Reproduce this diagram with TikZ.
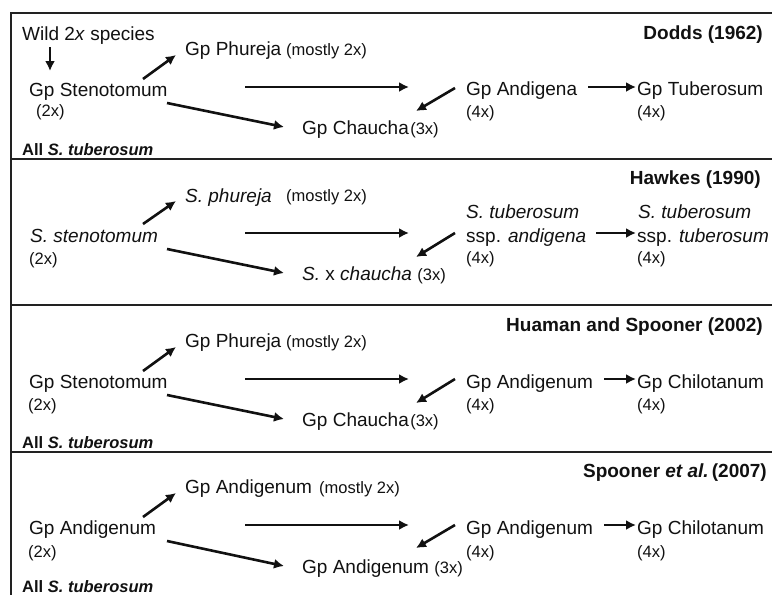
\documentclass[tikz,border=0pt]{standalone}
\usepackage{fontspec}
\setmainfont{Liberation Sans}
\usetikzlibrary{arrows.meta}
\definecolor{ink}{HTML}{111111}
\definecolor{rule}{HTML}{222222}
\begin{document}
\begin{tikzpicture}[x=1pt,y=-1pt,
  txt/.style={anchor=base west,inner sep=0pt,text=ink,font=\fontsize{19}{22}\selectfont},
  sml/.style={anchor=base west,inner sep=0pt,text=ink,font=\fontsize{16.5}{19}\selectfont},
  ttl/.style={anchor=base east,inner sep=0pt,text=ink,font=\fontsize{19}{22}\selectfont\bfseries},
  allst/.style={anchor=base west,inner sep=0pt,text=ink,font=\fontsize{16.5}{19}\selectfont\bfseries},
  arr/.style={draw=ink,line width=2.6pt,-{Latex[length=10pt,width=10pt]}},
  frm/.style={draw=rule,line width=1.8pt}]
\useasboundingbox (0,0) rectangle (772,595);
% frame
\coordinate (ftl) at (11,13); \coordinate (ftr) at (772,13); \coordinate (fbl) at (11,595);
\draw[frm] (fbl) -- (ftl) -- (ftr);
\foreach \yy/\nm in {159/d1,305/d2,452/d3}{
  \coordinate (\nm l) at (11,\yy); \coordinate (\nm r) at (772,\yy);
  \draw[frm] (\nm l) -- (\nm r);}

% ---------- Panel 1: Dodds ----------
\node[ttl] (t1) at (763,39) {Dodds (1962)};
\node[txt] (wild) at (22,40) {Wild 2\textit{x} species};
\node[txt] (sten1) at (29,96) {Gp Stenotomum};
\node[sml] (s2x1) at (36,116) {(2x)};
\node[txt] (phu1) at (185,55) {Gp Phureja};
\node[sml] (mo1) at (286,55) {(mostly 2x)};
\node[txt] (cha1) at (302,134) {Gp Chaucha};
\node[sml,anchor=base west] (c3x1) at ([xshift=1pt]cha1.base east) {(3x)};
\node[txt] (and1) at (466,95) {Gp Andigena};
\node[sml] (a4x1) at (466,117) {(4x)};
\node[txt] (tub1) at (637,95) {Gp Tuberosum};
\node[sml] (t4x1) at (637,117) {(4x)};
\node[allst] (all1) at (22,155) {All \textit{S. tuberosum}};
\coordinate (w1a) at (50,47); \coordinate (w1b) at (50,71);
\coordinate (u1a) at (143,79); \coordinate (u1b) at (176,55);
\coordinate (d1a) at (167,103); \coordinate (d1b) at (284,127);
\coordinate (h1a) at (245,87); \coordinate (h1b) at (409,87);
\coordinate (b1a) at (455,88); \coordinate (b1b) at (416,111);
\coordinate (r1a) at (588,87); \coordinate (r1b) at (636,87);
\draw[arr] (w1a) -- (w1b);
\draw[arr] (u1a) -- (u1b);
\draw[arr] (d1a) -- (d1b);
\draw[arr] (h1a) -- (h1b);
\draw[arr] (b1a) -- (b1b);
\draw[arr] (r1a) -- (r1b);

% ---------- Panel 2: Hawkes ----------
\node[ttl] (t2) at (761,184) {Hawkes (1990)};
\node[txt] (phu2) at (185,202) {\textit{S. phureja}};
\node[sml] (mo2) at (286,201) {(mostly 2x)};
\node[txt] (sten2) at (30,242) {\textit{S. stenotomum}};
\node[sml] (s2x2) at (29,264) {(2x)};
\node[txt] (cha2) at (302,280) {\textit{S.} x \textit{chaucha}};
\node[sml,anchor=base west] (c3x2) at ([xshift=5pt]cha2.base east) {(3x)};
\node[txt] (tub2a) at (466,218) {\textit{S. tuberosum}};
\node[txt] (and2) at (466,242) {ssp. \textit{andigena}};
\node[sml] (a4x2) at (466,263) {(4x)};
\node[txt] (tub2b) at (638,218) {\textit{S. tuberosum}};
\node[txt] (tub2) at (637,242) {ssp. \textit{tuberosum}};
\node[sml] (t4x2) at (637,263) {(4x)};
\coordinate (u2a) at (143,224); \coordinate (u2b) at (176,201);
\coordinate (d2a) at (167,249); \coordinate (d2b) at (284,273);
\coordinate (h2a) at (245,233); \coordinate (h2b) at (409,233);
\coordinate (b2a) at (455,233); \coordinate (b2b) at (416,257);
\coordinate (r2a) at (596,233); \coordinate (r2b) at (636,233);
\draw[arr] (u2a) -- (u2b);
\draw[arr] (d2a) -- (d2b);
\draw[arr] (h2a) -- (h2b);
\draw[arr] (b2a) -- (b2b);
\draw[arr] (r2a) -- (r2b);

% ---------- Panel 3: Huaman and Spooner ----------
\node[ttl] (t3) at (763,331) {Huaman and Spooner (2002)};
\node[txt] (phu3) at (185,347) {Gp Phureja};
\node[sml] (mo3) at (286,347) {(mostly 2x)};
\node[txt] (sten3) at (29,388) {Gp Stenotomum};
\node[sml] (s2x3) at (28,410) {(2x)};
\node[txt] (cha3) at (302,426) {Gp Chaucha};
\node[sml,anchor=base west] (c3x3) at ([xshift=1pt]cha3.base east) {(3x)};
\node[txt] (and3) at (466,388) {Gp Andigenum};
\node[sml] (a4x3) at (466,410) {(4x)};
\node[txt] (chi3) at (637,388) {Gp Chilotanum};
\node[sml] (c4x3) at (637,410) {(4x)};
\node[allst] (all3) at (22,448) {All \textit{S. tuberosum}};
\coordinate (u3a) at (143,371); \coordinate (u3b) at (176,347);
\coordinate (d3a) at (167,395); \coordinate (d3b) at (284,419);
\coordinate (h3a) at (245,379); \coordinate (h3b) at (409,379);
\coordinate (b3a) at (455,379); \coordinate (b3b) at (416,403);
\coordinate (r3a) at (604,379); \coordinate (r3b) at (636,379);
\draw[arr] (u3a) -- (u3b);
\draw[arr] (d3a) -- (d3b);
\draw[arr] (h3a) -- (h3b);
\draw[arr] (b3a) -- (b3b);
\draw[arr] (r3a) -- (r3b);

% ---------- Panel 4: Spooner et al. ----------
\node[ttl] (t4) at (767,477) {Spooner \textit{et al.}\,(2007)};
\node[txt] (phu4) at (185,493) {Gp Andigenum};
\node[sml] (mo4) at (319,493) {(mostly 2x)};
\node[txt] (sten4) at (29,534) {Gp Andigenum};
\node[sml] (s2x4) at (28,557) {(2x)};
\node[txt] (cha4) at (302,573) {Gp Andigenum};
\node[sml,anchor=base west] (c3x4) at ([xshift=5pt]cha4.base east) {(3x)};
\node[txt] (and4) at (466,534) {Gp Andigenum};
\node[sml] (a4x4) at (466,557) {(4x)};
\node[txt] (chi4) at (637,534) {Gp Chilotanum};
\node[sml] (c4x4) at (637,557) {(4x)};
\node[allst] (all4) at (22,592) {All \textit{S. tuberosum}};
\coordinate (u4a) at (143,517); \coordinate (u4b) at (176,493);
\coordinate (d4a) at (167,541); \coordinate (d4b) at (284,566);
\coordinate (h4a) at (245,525); \coordinate (h4b) at (409,525);
\coordinate (b4a) at (455,525); \coordinate (b4b) at (416,548);
\coordinate (r4a) at (604,525); \coordinate (r4b) at (636,525);
\draw[arr] (u4a) -- (u4b);
\draw[arr] (d4a) -- (d4b);
\draw[arr] (h4a) -- (h4b);
\draw[arr] (b4a) -- (b4b);
\draw[arr] (r4a) -- (r4b);
\end{tikzpicture}
\end{document}
